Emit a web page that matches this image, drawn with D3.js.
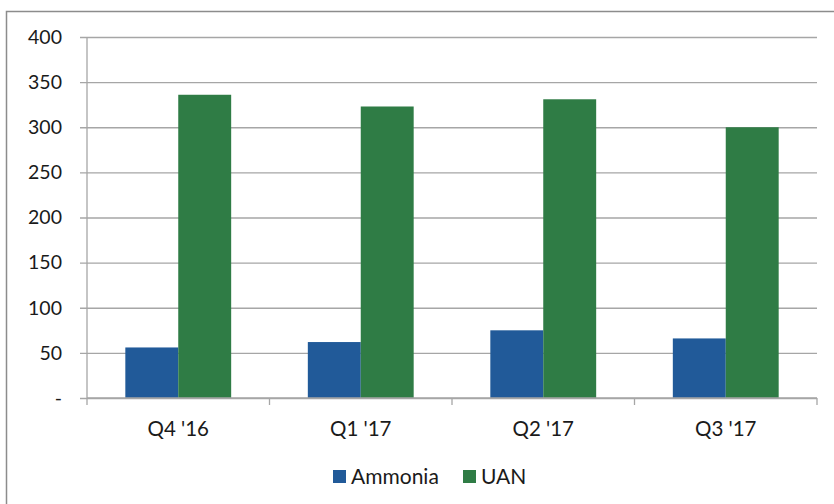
<!DOCTYPE html>
<html>
<head>
<meta charset="utf-8">
<script src="https://cdn.jsdelivr.net/npm/d3@7"></script>
<style>
  body { margin: 0; background: #fff; }
  svg text { font-family: Lato, "Open Sans", sans-serif; fill: #1a1a1a; }
</style>
</head>
<body>
<div id="chart"></div>
<script>
const categories = ["Q4 '16", "Q1 '17", "Q2 '17", "Q3 '17"];
const seriesNames = ["Ammonia", "UAN"];
const ammonia = [56, 62, 75, 66];
const uan = [336, 323, 331, 300];
const yTicks = [0, 50, 100, 150, 200, 250, 300, 350, 400];
const colors = ["#215a99", "#2f7c45"];

function makeChart() {
    const width = 834,
        height = 504;
    const left = 87, right = 817, top = 37, bottom = 398;

    let svg = d3.select('#chart').append('svg')
        .attr('width', width)
        .attr('height', height);

    // outer frame
    svg.append('rect')
        .attr('x', 6.5).attr('y', 11.5)
        .attr('width', width + 20).attr('height', height + 20)
        .attr('fill', 'none')
        .attr('stroke', '#8c8c8c')
        .attr('stroke-width', 1.5);

    let x = d3.scaleBand()
        .domain(categories)
        .range([left, right])
        .padding(0);

    let y = d3.scaleLinear()
        .domain([0, 400])
        .range([bottom, top]);

    let inner = d3.scaleBand()
        .domain(seriesNames)
        .range([0, x.bandwidth() * 0.58])
        .padding(0);
    const offset = x.bandwidth() * 0.21;

    // gridlines + y labels
    let yAxis = svg.append('g')
        .attr('transform', 'translate(' + left + ',0)')
        .call(d3.axisLeft(y)
            .tickValues(yTicks)
            .tickSize(-(right - left))
            .tickPadding(0)
            .tickFormat(d => d === 0 ? '-' : d));
    yAxis.select('.domain').remove();
    yAxis.selectAll('.tick line')
        .attr('x1', -7)
        .attr('stroke', '#a6a6a6')
        .attr('stroke-width', 1.3);
    yAxis.selectAll('.tick text')
        .attr('x', -25)
        .style('font-size', '19.5px')
        .style('fill', '#1a1a1a');

    // y axis line
    svg.append('line')
        .attr('x1', left).attr('x2', left)
        .attr('y1', top).attr('y2', bottom)
        .attr('stroke', '#a6a6a6').attr('stroke-width', 1.3);

    // bars
    let data = categories.map((c, i) => ({ cat: c, values: [ammonia[i], uan[i]] }));
    let groups = svg.append('g').selectAll('g')
        .data(data)
        .enter().append('g')
        .attr('transform', d => 'translate(' + (x(d.cat) + offset) + ',0)');

    groups.selectAll('rect')
        .data(d => d.values.map((v, j) => ({ name: seriesNames[j], value: v, j: j })))
        .enter().append('rect')
        .attr('x', d => inner(d.name))
        .attr('width', inner.bandwidth())
        .attr('y', d => y(d.value))
        .attr('height', d => y(0) - y(d.value))
        .attr('fill', d => colors[d.j]);

    // x axis
    let xAxis = svg.append('g')
        .attr('transform', 'translate(0,' + bottom + ')')
        .call(d3.axisBottom(x).tickSize(0).tickPadding(23));
    xAxis.select('.domain').remove();
    xAxis.selectAll('text').style('font-size', '20.5px').style('fill', '#1a1a1a');

    svg.append('line')
        .attr('x1', left).attr('x2', right)
        .attr('y1', bottom).attr('y2', bottom)
        .attr('stroke', '#a6a6a6').attr('stroke-width', 1.3);

    let boundaries = categories.map(c => x(c)).concat([right]);
    svg.append('g').selectAll('line')
        .data(boundaries)
        .enter().append('line')
        .attr('x1', d => d).attr('x2', d => d)
        .attr('y1', bottom).attr('y2', bottom + 7)
        .attr('stroke', '#a6a6a6').attr('stroke-width', 1.3);

    // legend
    let legend = svg.append('g').attr('transform', 'translate(333,470)');
    const legendX = [0, 130];
    let items = legend.selectAll('g')
        .data(seriesNames)
        .enter().append('g')
        .attr('transform', (d, i) => 'translate(' + legendX[i] + ',0)');
    items.append('rect')
        .attr('width', 13).attr('height', 13)
        .attr('fill', (d, i) => colors[i]);
    items.append('text')
        .attr('x', 18)
        .attr('y', 13.5)
        .style('font-size', '21px')
        .text(d => d);
}

makeChart();
</script>
</body>
</html>
